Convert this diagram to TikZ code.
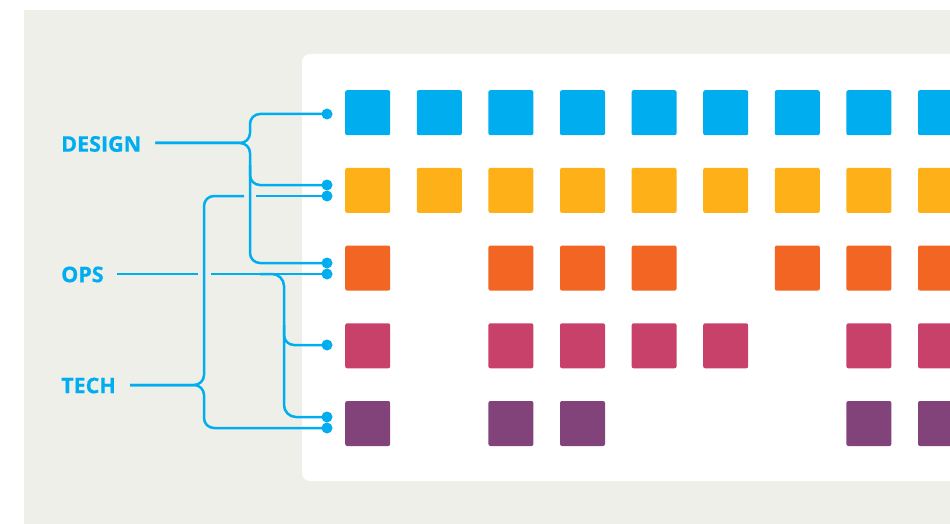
\documentclass[tikz,border=0pt]{standalone}
\usepackage{fontspec}
\setmainfont{Open Sans}[BoldFeatures={FakeBold=0.6}]
\definecolor{cblue}{HTML}{00AEEF}
\definecolor{corange}{HTML}{FDB018}
\definecolor{cred}{HTML}{F26522}
\definecolor{cpink}{HTML}{C8416B}
\definecolor{cpurple}{HTML}{82427A}
\definecolor{cgray}{HTML}{EFEFEA}
\begin{document}
\begin{tikzpicture}[x=1pt,y=-1pt,
  line/.style={cblue, line width=2.5pt},
  dot/.style={circle, fill=cblue, inner sep=0pt, minimum size=11pt},
  sq/.style={rounded corners=2pt, inner sep=0pt, minimum size=45pt, anchor=north west},
  lbl/.style={font=\bfseries\fontsize{21.5}{21.5}\selectfont, text=cblue, inner sep=0pt, anchor=west}]
\clip (0,0) rectangle (950,524);
\fill[cgray] (24,10) rectangle (950,524);
\fill[white, rounded corners=8pt] (302,54) rectangle (990,481);
% squares
\foreach \r/\col/\cols in {0/cblue/{1,2,3,4,5,6,7,8,9},1/corange/{1,2,3,4,5,6,7,8,9},2/cred/{1,3,4,5,7,8,9},3/cpink/{1,3,4,5,6,8,9},4/cpurple/{1,3,4,8,9}}{
  \foreach \c in \cols {
    \node[sq, fill=\col] (s\r-\c) at ({345+71.6*(\c-1)},{90+77.7*\r}) {};
  }
}
% labels
\node[lbl] (design) at (61,144) {DESIGN};
\node[lbl] (ops) at (61,274.5) {OPS};
\node[lbl] (tech) at (61,385.5) {TECH};
% dots
\node[dot] (d1) at (327,114) {};
\node[dot] (d2) at (327,185) {};
\node[dot] (d3) at (327,263) {};
\node[dot] (d4) at (327,274) {};
\node[dot] (d5) at (327,196) {};
\node[dot] (d6) at (327,345) {};
\node[dot] (d7) at (327,417) {};
\node[dot] (d8) at (327,428) {};
% DESIGN
\draw[line, rounded corners=10pt] ([xshift=14pt,yshift=1pt]design.east) -- (250,143) |- (d1.center);
\draw[line, rounded corners=10pt] ([xshift=14pt,yshift=1pt]design.east) -- (250,143) |- (d3.center);
\draw[line, rounded corners=10pt] (250,165) |- (d2.center);
% TECH
\draw[line, rounded corners=10pt] ([xshift=14pt,yshift=0.5pt]tech.east) -- (204,385) |- (244,196);
\draw[line] (256,196) -- (d5.center);
\draw[line, rounded corners=10pt] ([xshift=14pt,yshift=0.5pt]tech.east) -- (204,385) |- (d8.center);
% OPS
\draw[line] ([xshift=13pt,yshift=0.5pt]ops.east) -- (198,274);
\draw[line] (211,274) -- (d4.center);
\draw[line, rounded corners=12pt] (260,274) -- (284,274) |- (d7.center);
\draw[line, rounded corners=10pt] (284,325) |- (d6.center);
\end{tikzpicture}
\end{document}
